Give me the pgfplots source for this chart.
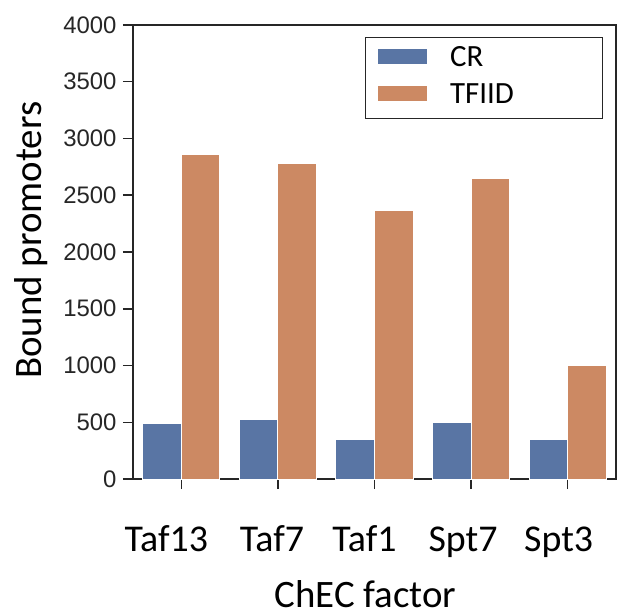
\documentclass[border=0pt]{standalone}
\usepackage{pgfplots}
\pgfplotsset{compat=1.18}
\usepackage{fontspec}
\setmainfont{Carlito}
\newfontfamily\arialfont{Liberation Sans}
\definecolor{crblue}{HTML}{5975A4}
\definecolor{tforange}{HTML}{CC8963}
\definecolor{spine}{HTML}{262626}
\newcommand{\shl}[2]{\hspace*{-#1bp}#2\hspace*{#1bp}}
\begin{document}
\begin{tikzpicture}
\path[use as bounding box] (-133bp,-137bp) rectangle (491bp,479bp);
\begin{axis}[
  at={(0,0)}, anchor=south west,
  scale only axis, width=483bp, height=454bp,
  xmin=-0.5, xmax=4.5, ymin=0, ymax=4000,
  xtick={0,1,2,3,4},
  xticklabels={\shl{15}{Taf13},\shl{6}{Taf7},\shl{10}{Taf1},\shl{8}{Spt7},\shl{9}{Spt3}},
  ytick={0,500,...,4000},
  tick pos=left, tick align=outside,
  major tick length=10bp,
  axis line style={spine, line width=1.5bp},
  every tick/.style={spine, line width=1.5bp},
  /pgf/number format/assume math mode=true,
  /pgf/number format/1000 sep={},
  yticklabel style={font=\arialfont\fontsize{24}{24}\selectfont, text=spine, xshift=-3bp},
  xticklabel style={font=\fontsize{38}{38}\selectfont, text=black, anchor=base, yshift=-62bp},
  every axis x label/.style={at={(axis description cs:0.4814,-0.282)}, anchor=base, inner sep=0pt, font=\fontsize{39}{39}\selectfont},
  every axis y label/.style={at={(axis description cs:-0.189,0.526)}, rotate=90, anchor=base, font=\fontsize{39}{39}\selectfont},
  xlabel={ChEC factor},
  ylabel={Bound promoters},
  legend style={at={(1,1)}, xshift=-13.3bp, yshift=-12.3bp, anchor=north east,
    draw=spine, line width=1bp, inner xsep=12bp, inner ysep=9.2bp,
    font=\fontsize{31}{31}\selectfont, row sep=10.6bp, column sep=22bp,
    nodes={text width=140bp, align=left, inner sep=0pt, text height=20bp, text depth=6bp}},
  legend image code/.code={\fill (0bp,-5bp) rectangle (50bp,11bp);},
  legend cell align=left,
]
\addplot[ybar, bar width=0.4, bar shift=-0.2, fill=crblue, draw=white, line width=1bp]
  coordinates {(0,493) (1,526) (2,350) (3,500) (4,350)};
\addlegendentry{CR}
\addplot[ybar, bar width=0.4, bar shift=0.2, fill=tforange, draw=white, line width=1bp]
  coordinates {(0,2863) (1,2781) (2,2364) (3,2646) (4,1004)};
\addlegendentry{TFIID}
\end{axis}
\end{tikzpicture}
\end{document}
